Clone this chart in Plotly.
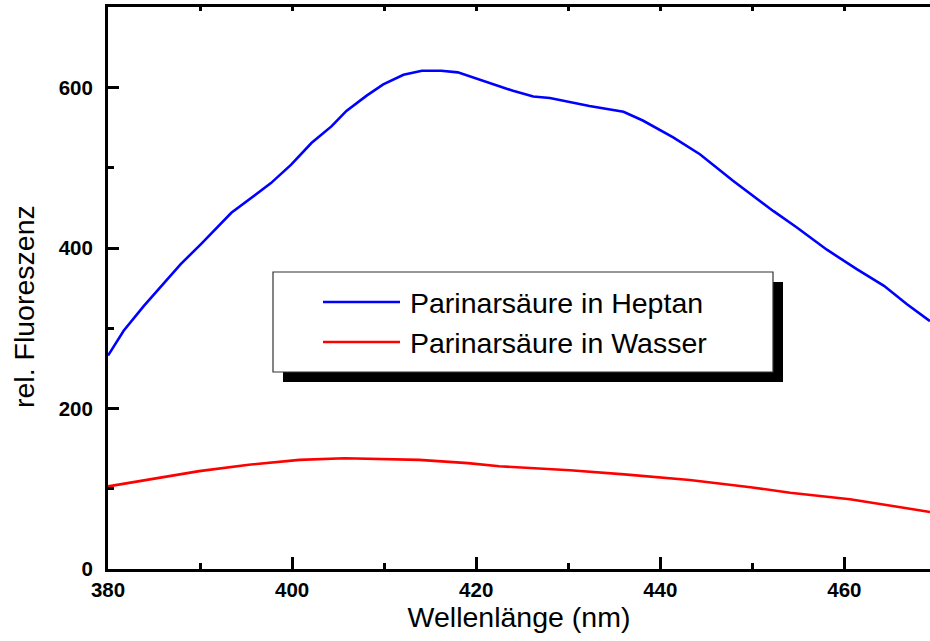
import plotly.graph_objects as go

# Emission spectra of parinaric acid (relative fluorescence vs wavelength)
heptan_nm = [380.0, 381.7, 383.9, 387.9, 390.1, 393.4, 397.7, 399.9, 402.1, 404.3,
             405.9, 408.1, 409.9, 412.1, 414.1, 416.2, 418.0, 421.5, 424.0, 426.2,
             428.0, 432.3, 436.0, 438.1, 441.4, 444.3, 447.9, 452.3, 454.8, 458.1,
             461.3, 464.3, 466.8, 469.3]
heptan_val = [266, 297, 328, 380, 405, 444, 481, 504, 531, 552,
              571, 590, 604, 616, 621, 621, 619, 606, 596, 589,
              587, 577, 570, 559, 538, 517, 484, 446, 426, 398,
              374, 353, 330, 309]

wasser_nm = [380.0, 384.5, 389.9, 395.3, 400.8, 405.7, 409.5, 413.8, 419.1, 422.5,
             430.2, 436.1, 443.2, 449.8, 454.1, 460.6, 466.1, 469.3]
wasser_val = [103, 112, 122, 130, 136, 138, 137, 136, 132, 128,
              123, 118, 111, 102, 95, 87, 77, 71]

series_names = ["Parinarsäure in Heptan", "Parinarsäure in Wasser"]
series_colors = ["#0000ff", "#ff0000"]

x_ticks = [380, 400, 420, 440, 460]
y_ticks = [0, 200, 400, 600]

W, H = 930, 641
L, R, T, B = 108, 0, 7, 72
PW, PH = W - L - R, H - T - B

def px(x):
    return (x - L) / PW

def py(y):
    return (H - B - y) / PH

fig = go.Figure()
fig.add_trace(go.Scatter(x=heptan_nm, y=heptan_val, mode="lines", name=series_names[0],
                         line=dict(color=series_colors[0], width=2.6), showlegend=False))
fig.add_trace(go.Scatter(x=wasser_nm, y=wasser_val, mode="lines", name=series_names[1],
                         line=dict(color=series_colors[1], width=2.6), showlegend=False))

tickfont = dict(family="Liberation Sans, Arial, sans-serif", size=20.5, color="black", weight="bold")
titlefont = dict(family="Liberation Sans, Arial, sans-serif", size=28.5, color="black")

fig.update_layout(
    width=W, height=H,
    margin=dict(l=L, r=R, t=T, b=B),
    paper_bgcolor="white", plot_bgcolor="white",
    xaxis=dict(range=[380, 469.3], tickvals=x_ticks, ticktext=[str(v) for v in x_ticks],
               ticks="inside", ticklen=12, tickwidth=2.5, tickcolor="black",
               minor=dict(dtick=10, tick0=380, ticks="inside", ticklen=6, tickwidth=2.5, tickcolor="black"),
               showline=True, linewidth=3, linecolor="black", showgrid=False, zeroline=False,
               tickfont=tickfont,
               title=dict(text="Wellenlänge (nm)", font=titlefont, standoff=0)),
    xaxis2=dict(range=[380, 469.3], overlaying="x", side="top", anchor="y",
                tickvals=x_ticks, showticklabels=False,
                ticks="inside", ticklen=4, tickwidth=2.5, tickcolor="black",
                minor=dict(dtick=10, tick0=380, ticks="inside", ticklen=4, tickwidth=2.5, tickcolor="black"),
                showline=True, linewidth=3, linecolor="black", showgrid=False, zeroline=False),
    yaxis=dict(range=[0, 700.5], tickvals=y_ticks, ticktext=[str(v) for v in y_ticks],
               ticks="inside", ticklen=11, tickwidth=2.5, tickcolor="black",
               minor=dict(dtick=100, tick0=0, ticks="inside", ticklen=6, tickwidth=2.5, tickcolor="black"),
               showline=True, linewidth=3, linecolor="black", showgrid=False, zeroline=False,
               tickfont=tickfont, ticklabelstandoff=8),
    showlegend=False,
)
# invisible trace so the top axis is drawn
fig.add_trace(go.Scatter(x=[380], y=[0], xaxis="x2", mode="markers",
                         marker=dict(opacity=0), hoverinfo="skip", showlegend=False))

# y-axis title
fig.add_annotation(text="rel. Fluoreszenz", textangle=-90, showarrow=False,
                   xref="paper", yref="paper", x=px(24), y=py(307),
                   xanchor="center", yanchor="middle", font=titlefont)

# legend box with drop shadow
bx0, bx1, by0, by1 = 273, 773, 272, 372
fig.add_shape(type="rect", xref="paper", yref="paper",
              x0=px(bx0 + 10), x1=px(bx1 + 10), y0=py(by1 + 10), y1=py(by0 + 10),
              fillcolor="black", line=dict(width=0), layer="above")
fig.add_shape(type="rect", xref="paper", yref="paper",
              x0=px(bx0), x1=px(bx1), y0=py(by1), y1=py(by0),
              fillcolor="white", line=dict(color="#333333", width=1.2), layer="above")
for i, (name, col) in enumerate(zip(series_names, series_colors)):
    yy = 302 + 40 * i
    fig.add_shape(type="line", xref="paper", yref="paper",
                  x0=px(323), x1=px(400), y0=py(yy), y1=py(yy),
                  line=dict(color=col, width=2.6), layer="above")
    fig.add_annotation(text=name, showarrow=False, xref="paper", yref="paper",
                       x=px(408), y=py(yy + 1), xanchor="left", yanchor="middle",
                       font=titlefont)

fig.write_html("out.html")
